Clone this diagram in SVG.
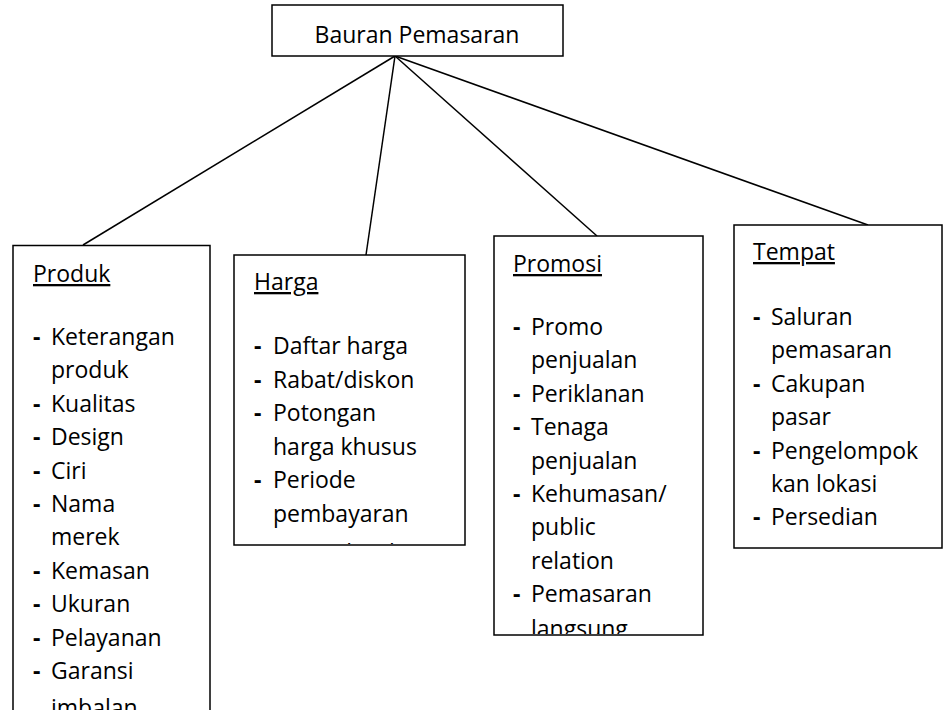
<svg xmlns="http://www.w3.org/2000/svg" width="943" height="710" viewBox="0 0 943 710">
  <style>
    .box { fill: #ffffff; stroke: #000000; stroke-width: 1.5; }
    .conn { stroke: #000000; stroke-width: 1.5; fill: none; }
    text { font-family: "Open Sans", "Noto Sans", "DejaVu Sans", sans-serif; font-size: 23px; fill: #000000; }
    .head { text-decoration: underline; }
    .dash { font-weight: 700; }
  </style>
  <defs>
    <clipPath id="clipProduk"><rect x="14" y="247" width="195" height="470"/></clipPath>
    <clipPath id="clipHarga"><rect x="235" y="256" width="229" height="288"/></clipPath>
    <clipPath id="clipPromosi"><rect x="495" y="237" width="207" height="397"/></clipPath>
    <clipPath id="clipTempat"><rect x="735" y="226" width="206" height="321"/></clipPath>
  </defs>
  <rect width="943" height="710" fill="#ffffff"/>

  <g id="connectors">
    <line class="conn" x1="395" y1="56" x2="83" y2="245"/>
    <line class="conn" x1="395" y1="56" x2="366" y2="255"/>
    <line class="conn" x1="395" y1="56" x2="597" y2="236"/>
    <line class="conn" x1="395" y1="56" x2="868" y2="225"/>
  </g>

  <g id="bauran-pemasaran">
    <rect class="box" x="272" y="5" width="291" height="51"/>
    <text x="417" y="43" text-anchor="middle">Bauran Pemasaran</text>
  </g>

  <g id="produk">
    <rect class="box" x="13" y="245.5" width="197" height="480"/>
    <g clip-path="url(#clipProduk)">
      <text class="head" x="33" y="282">Produk</text>
      <text class="dash" x="33" y="345">-</text><text x="51" y="345">Keterangan</text>
      <text x="51" y="378.4">produk</text>
      <text class="dash" x="33" y="411.8">-</text><text x="51" y="411.8">Kualitas</text>
      <text class="dash" x="33" y="445.2">-</text><text x="51" y="445.2">Design</text>
      <text class="dash" x="33" y="478.6">-</text><text x="51" y="478.6">Ciri</text>
      <text class="dash" x="33" y="512">-</text><text x="51" y="512">Nama</text>
      <text x="51" y="545.4">merek</text>
      <text class="dash" x="33" y="578.8">-</text><text x="51" y="578.8">Kemasan</text>
      <text class="dash" x="33" y="612.2">-</text><text x="51" y="612.2">Ukuran</text>
      <text class="dash" x="33" y="645.6">-</text><text x="51" y="645.6">Pelayanan</text>
      <text class="dash" x="33" y="679">-</text><text x="51" y="679">Garansi</text>
      <text x="51" y="716">imbalan</text>
    </g>
  </g>

  <g id="harga">
    <rect class="box" x="234" y="255" width="231" height="290"/>
    <g clip-path="url(#clipHarga)">
      <text class="head" x="254" y="290">Harga</text>
      <text class="dash" x="254" y="354">-</text><text x="273" y="354">Daftar harga</text>
      <text class="dash" x="254" y="387.6">-</text><text x="273" y="387.6">Rabat/diskon</text>
      <text class="dash" x="254" y="421.2">-</text><text x="273" y="421.2">Potongan</text>
      <text x="273" y="454.8">harga khusus</text>
      <text class="dash" x="254" y="488.4">-</text><text x="273" y="488.4">Periode</text>
      <text x="273" y="522">pembayaran</text>
      <text class="dash" x="254" y="561">-</text><text x="273" y="561">Syarat kredit</text>
    </g>
  </g>

  <g id="promosi">
    <rect class="box" x="494" y="236" width="209" height="399"/>
    <g clip-path="url(#clipPromosi)">
      <text class="head" x="513" y="272">Promosi</text>
      <text class="dash" x="513" y="335">-</text><text x="531" y="335">Promo</text>
      <text x="531" y="368.4">penjualan</text>
      <text class="dash" x="513" y="401.8">-</text><text x="531" y="401.8">Periklanan</text>
      <text class="dash" x="513" y="435.2">-</text><text x="531" y="435.2">Tenaga</text>
      <text x="531" y="468.6">penjualan</text>
      <text class="dash" x="513" y="502">-</text><text x="531" y="502">Kehumasan/</text>
      <text x="531" y="535.4">public</text>
      <text x="531" y="568.8">relation</text>
      <text class="dash" x="513" y="602.2">-</text><text x="531" y="602.2">Pemasaran</text>
      <text x="531" y="637">langsung</text>
    </g>
  </g>

  <g id="tempat">
    <rect class="box" x="734" y="225" width="208" height="323"/>
    <g clip-path="url(#clipTempat)">
      <text class="head" x="753" y="260">Tempat</text>
      <text class="dash" x="753" y="325">-</text><text x="771" y="325">Saluran</text>
      <text x="771" y="358.4">pemasaran</text>
      <text class="dash" x="753" y="391.8">-</text><text x="771" y="391.8">Cakupan</text>
      <text x="771" y="425.2">pasar</text>
      <text class="dash" x="753" y="458.6">-</text><text x="771" y="458.6">Pengelompok</text>
      <text x="771" y="492">kan lokasi</text>
      <text class="dash" x="753" y="525.4">-</text><text x="771" y="525.4">Persedian</text>
    </g>
  </g>
</svg>
